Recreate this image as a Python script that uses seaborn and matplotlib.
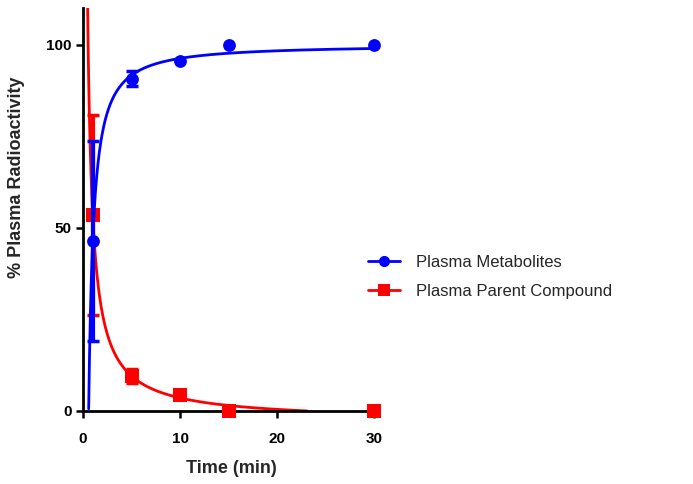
import numpy as np
import pandas as pd
import matplotlib
matplotlib.use("Agg")
import matplotlib.pyplot as plt
import seaborn as sns
from matplotlib.lines import Line2D

# Measured values (mean and SD) at each sampling time
time_min = [1, 5, 10, 15, 30]
metabolites = [46.5, 90.7, 95.6, 100.0, 100.0]
metabolites_sd = [27.3, 2.0, 0.0, 0.0, 0.0]
parent = [53.5, 9.6, 4.4, 0.0, 0.0]
parent_sd = [27.3, 2.0, 0.0, 0.0, 0.0]
series_names = ["Plasma Metabolites", "Plasma Parent Compound"]
x_ticks = [0, 10, 20, 30]
y_ticks = [0, 50, 100]

BLUE = "#0000FF"
RED = "#FF0000"

sns.set_theme(style="ticks")
plt.rcParams["font.family"] = ["Liberation Sans", "DejaVu Sans"]


def fit_power(x, y, plateau=None):
    """Least-squares fit of y = a * x**-b + c (grid over b, linear in a and c).

    If plateau is given, c is held at that value.
    """
    x = np.asarray(x, float)
    y = np.asarray(y, float)
    best = None
    for b in np.linspace(0.3, 3.0, 541):
        if plateau is None:
            A = np.column_stack([x ** -b, np.ones_like(x)])
            coef, *_ = np.linalg.lstsq(A, y, rcond=None)
        else:
            A = np.column_stack([x ** -b])
            a, *_ = np.linalg.lstsq(A, y - plateau, rcond=None)
            coef = np.array([a[0], plateau])
            A = np.column_stack([x ** -b, np.ones_like(x)])
        r = np.sum((A @ coef - y) ** 2)
        if best is None or r < best[0]:
            best = (r, b, coef)
    _, b, (a, c) = best
    return lambda t: a * t ** -b + c


df = pd.DataFrame({
    "time": time_min * 2,
    "value": metabolites + parent,
    "sd": metabolites_sd + parent_sd,
    "series": [series_names[0]] * len(time_min) + [series_names[1]] * len(time_min),
})

t_grid = np.geomspace(0.3, max(time_min), 600)
met_fit = fit_power(time_min, metabolites, plateau=max(metabolites))(t_grid)
par_fit = fit_power(time_min, parent)(t_grid)
met_mask = met_fit >= 0
par_mask = par_fit >= 0
if not par_mask.all():
    # parent curve stops where it reaches zero
    first = np.argmax(par_mask)
    stop = first + np.argmax(~par_mask[first:])
    par_mask[stop:] = False

fig = plt.figure(figsize=(6.93, 4.84), dpi=100)
ax = fig.add_axes([83 / 693, 73 / 484, 296 / 693, 403 / 484])

# fitted curves
sns.lineplot(x=t_grid[par_mask], y=par_fit[par_mask], ax=ax, color=RED, lw=2.0,
             sort=False, estimator=None, zorder=2)
sns.lineplot(x=t_grid[met_mask], y=met_fit[met_mask], ax=ax, color=BLUE, lw=2.0,
             sort=False, estimator=None, zorder=4)

# error bars and points
for name, color, marker, z in [(series_names[1], RED, "s", 3), (series_names[0], BLUE, "o", 5)]:
    sub = df[df["series"] == name]
    eb = sub[sub["sd"] > 0]
    ax.errorbar(eb["time"], eb["value"], yerr=eb["sd"], fmt="none", ecolor=color,
                elinewidth=3.0, capsize=4.5, capthick=2.5, zorder=z, clip_on=False)
    sns.scatterplot(data=sub, x="time", y="value", ax=ax, color=color, marker=marker,
                    s=85 if marker == "o" else 90, edgecolor=color, linewidth=0,
                    zorder=z + 0.5, clip_on=False, legend=False)

ax.set_xlim(0, 30.5)
ax.set_ylim(0, 110)
ax.set_xticks(x_ticks)
ax.set_yticks(y_ticks)
ax.set_xticklabels([str(v) for v in x_ticks], fontsize=11, fontweight="bold")
ax.set_yticklabels([str(v) for v in y_ticks], fontsize=11, fontweight="bold")
ax.tick_params(axis="both", direction="out", length=5, width=1.8, colors="black")
ax.tick_params(axis="x", pad=10)
ax.tick_params(axis="y", pad=3)
for side in ["top", "right"]:
    ax.spines[side].set_visible(False)
for side in ["left", "bottom"]:
    ax.spines[side].set_linewidth(2.0)
    ax.spines[side].set_color("black")

ax.set_xlabel("Time (min)", fontsize=13, fontweight="bold", labelpad=10)
ax.set_ylabel("% Plasma Radioactivity", fontsize=13, fontweight="bold", va="center")
ax.yaxis.set_label_coords(-0.223, 0.58)

handles = [
    Line2D([0], [0], color=BLUE, lw=2.0, marker="o", markersize=8, markeredgewidth=0),
    Line2D([0], [0], color=RED, lw=2.0, marker="s", markersize=8, markeredgewidth=0),
]
fig.legend(handles, series_names, loc="center left", bbox_to_anchor=(368 / 693, 207 / 484),
           frameon=False, fontsize=12, handlelength=1.9, handletextpad=1.0,
           labelspacing=0.85, borderpad=0, borderaxespad=0)

fig.savefig("out.png", dpi=100)
